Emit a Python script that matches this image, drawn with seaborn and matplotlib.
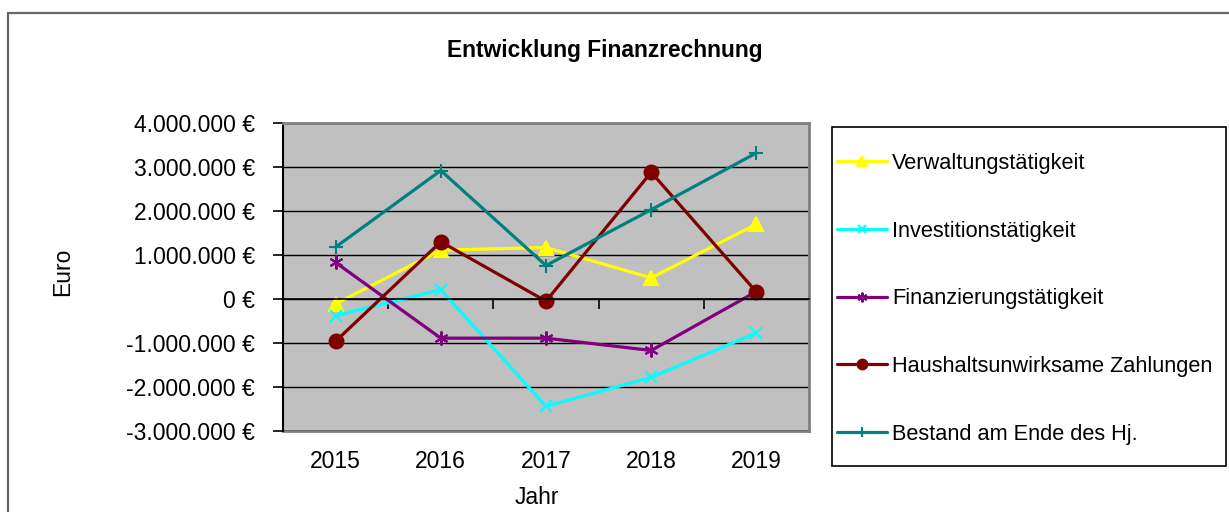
import matplotlib
matplotlib.use("Agg")
import matplotlib.pyplot as plt
from matplotlib.ticker import FuncFormatter, MultipleLocator
from matplotlib.patches import Rectangle
import seaborn as sns
import numpy as np

years = ["2015", "2016", "2017", "2018", "2019"]
verwaltung = [-110000, 1110000, 1170000, 480000, 1700000]
investition = [-380000, 210000, -2440000, -1780000, -770000]
finanzierung = [830000, -890000, -890000, -1170000, 170000]
haushaltsunwirksam = [-960000, 1300000, -50000, 2880000, 160000]
bestand = [1180000, 2920000, 760000, 2030000, 3320000]

series = [
    ("Verwaltungstätigkeit", verwaltung, "#FFFF00", "^", 10),
    ("Investitionstätigkeit", investition, "#00FFFF", "x", 9),
    ("Finanzierungstätigkeit", finanzierung, "#800080", (6, 2, 0), 10),
    ("Haushaltsunwirksame Zahlungen", haushaltsunwirksam, "#800000", "o", 10),
    ("Bestand am Ende des Hj.", bestand, "#008080", "+", 10),
]

sns.set_style("white")
plt.rcParams["font.family"] = ["Liberation Sans", "DejaVu Sans"]
plt.rcParams["text.color"] = "black"
plt.rcParams["xtick.color"] = "black"
plt.rcParams["ytick.color"] = "black"
plt.rcParams["axes.labelcolor"] = "black"

W, H = 1229, 512
fig = plt.figure(figsize=(W / 100, H / 100), dpi=100)

# outer chart frame
fig.patches.append(Rectangle((7.5 / W, -0.1), 1.2, 1 - 12.7 / H + 0.1,
                             transform=fig.transFigure, fill=False,
                             edgecolor="#666666", linewidth=1.6, zorder=-1))
# legend frame
fig.patches.append(Rectangle((832 / W, (H - 466) / H), (1226 - 832) / W, (466 - 127) / H,
                             transform=fig.transFigure, fill=False,
                             edgecolor="black", linewidth=1.2, zorder=-1))

ax = fig.add_axes([283 / W, (H - 431) / H, (809 - 283) / W, (431 - 123) / H])
ax.set_facecolor("#C0C0C0")

x_pos = np.arange(len(years))
for name, vals, color, marker, ms in series:
    sns.lineplot(x=x_pos, y=vals, ax=ax, color=color, marker=marker,
                 markersize=ms, markeredgecolor=color, markerfacecolor=color,
                 markeredgewidth=1.5, linewidth=2.3, label=name)

ax.set_xlim(-0.5, len(years) - 0.5)
ax.set_ylim(-3000000, 4000000)
ax.yaxis.set_major_locator(MultipleLocator(1000000))
ax.yaxis.set_major_formatter(FuncFormatter(
    lambda v, p: f"{v:,.0f}".replace(",", ".") + " €"))
ax.grid(axis="y", color="black", linewidth=1.0)
ax.grid(axis="x", visible=False)
ax.set_axisbelow(True)

ax.tick_params(axis="y", direction="out", length=7, width=1.2, pad=13,
               labelsize=16.5, left=True, color="black", labelcolor="black")

# x axis crossing at 0 with ticks between categories
ax.spines["bottom"].set_position(("data", 0))
ax.spines["bottom"].set_color("black")
ax.spines["bottom"].set_linewidth(1.2)
ax.set_xticks(np.arange(len(years) - 1) + 0.5)
ax.set_xticklabels([])
ax.tick_params(axis="x", direction="out", length=7, width=1.2, bottom=True,
               color="black")

for s in ["top", "right"]:
    ax.spines[s].set_color("#808080")
    ax.spines[s].set_linewidth(2)
ax.spines["left"].set_color("black")
ax.spines["left"].set_linewidth(1.5)

sec = ax.secondary_xaxis("bottom")
sec.set_xticks(x_pos)
sec.set_xticklabels(years)
sec.tick_params(length=0, pad=14, labelsize=16.5, labelcolor="black")
sec.spines["bottom"].set_color("#808080")
sec.spines["bottom"].set_linewidth(2)

ax.set_xlabel("")
ax.set_ylabel("")
fig.text(605 / W, 1 - 51 / H, "Entwicklung Finanzrechnung", ha="center",
         va="center", fontsize=16.4, fontweight="bold", color="black")
fig.text(63 / W, 1 - 272 / H, "Euro", ha="center", va="center",
         rotation=90, fontsize=16.5, color="black")
fig.text(537 / W, 1 - 497 / H, "Jahr", ha="center", va="center",
         fontsize=16.5, color="black")

leg = ax.legend(loc="upper left",
                bbox_to_anchor=(837 / W, 1 - 153 / H),
                bbox_transform=fig.transFigure,
                fontsize=15.7, frameon=False, labelspacing=2.14, borderpad=0,
                handlelength=2.3, handletextpad=0.22, borderaxespad=0,
                markerscale=0.7)
for t in leg.get_texts():
    t.set_color("black")

fig.savefig("out.png", dpi=100)
